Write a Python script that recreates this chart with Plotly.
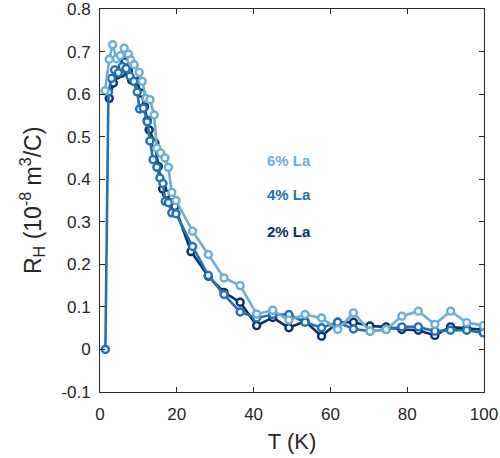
import plotly.graph_objects as go

# 6% La
T6 = [1.3, 2.4, 3.3, 4.3, 5.3, 6.3, 7.4, 8.0, 8.9, 10.2, 11.0, 12.0, 13.0, 14.1, 14.8, 15.8, 16.9, 17.8, 18.7, 19.8,
      24.1, 28.2, 32.3, 36.5, 40.8, 45.0, 49.2, 53.4, 57.7, 61.9, 66.0, 70.3, 74.5, 78.6, 82.9, 87.2, 91.3, 95.5, 99.8]
R6 = [0.608, 0.682, 0.716, 0.683, 0.690, 0.708, 0.694, 0.680, 0.669, 0.651, 0.630, 0.590, 0.587, 0.551, 0.473, 0.462, 0.450, 0.428, 0.369, 0.350,
      0.278, 0.223, 0.168, 0.150, 0.083, 0.092, 0.069, 0.082, 0.074, 0.047, 0.086, 0.043, 0.047, 0.078, 0.090, 0.059, 0.090, 0.063, 0.056]

# 4% La
T4 = [1.4, 2.2, 3.0, 3.8, 4.8, 5.8, 6.8, 7.8, 8.8, 9.7, 10.3, 11.3, 12.3, 13.0, 13.8, 14.8, 15.6, 16.4, 17.0, 17.8, 18.7, 19.8,
      24.1, 28.2, 32.3, 36.5, 40.8, 45.0, 49.2, 53.4, 57.7, 61.9, 66.0, 70.3, 74.5, 78.6, 82.9, 87.2, 91.3, 95.5, 99.8]
R4 = [0.0, 0.605, 0.637, 0.657, 0.650, 0.665, 0.660, 0.642, 0.630, 0.605, 0.565, 0.567, 0.535, 0.490, 0.446, 0.428, 0.403, 0.390, 0.348, 0.345, 0.321, 0.319,
      0.242, 0.174, 0.129, 0.088, 0.074, 0.082, 0.082, 0.064, 0.051, 0.064, 0.048, 0.043, 0.047, 0.053, 0.053, 0.043, 0.045, 0.045, 0.039]

# 2% La
T2 = [2.4, 3.5, 4.5, 5.6, 6.5, 7.4, 8.2, 9.5, 10.8, 11.6, 12.3, 12.8, 14.3, 15.2, 16.3, 17.3, 18.4, 19.5,
      23.7, 28.2, 32.3, 36.5, 40.8, 45.0, 49.2, 53.4, 57.7, 61.9, 66.0, 70.3, 74.5, 78.6, 82.9, 87.2, 91.3, 95.5, 99.8]
R2 = [0.590, 0.626, 0.645, 0.649, 0.676, 0.655, 0.633, 0.630, 0.602, 0.570, 0.538, 0.516, 0.485, 0.430, 0.377, 0.365, 0.345, 0.336,
      0.230, 0.172, 0.134, 0.111, 0.056, 0.075, 0.051, 0.066, 0.031, 0.064, 0.064, 0.055, 0.053, 0.047, 0.045, 0.033, 0.053, 0.049, 0.047]

labels = ["2% La", "4% La", "6% La"]
colors = ["#08306b", "#2171b5", "#6baed6"]
xticks = [0, 20, 40, 60, 80, 100]
yticks = [-0.1, 0, 0.1, 0.2, 0.3, 0.4, 0.5, 0.6, 0.7, 0.8]
ytick_text = ["-0.1", "0", "0.1", "0.2", "0.3", "0.4", "0.5", "0.6", "0.7", "0.8"]

FONT = "Liberation Sans, Arial, sans-serif"
W, H = 500, 458
L, Rm, Tm, B = 100, 16, 9, 66
pw, ph = W - L - Rm, H - Tm - B

fig = go.Figure()
for T, R, c, name in zip([T2, T4, T6], [R2, R4, R6], colors, labels):
    fig.add_trace(go.Scatter(
        x=T, y=R, mode="lines+markers", name=name,
        line=dict(color=c, width=2.6),
        marker=dict(symbol="circle", size=7, color="white", line=dict(color=c, width=2.4)),
        showlegend=False))

ann_y = [231, 194, 160]
for name, c, py in zip(labels, colors, ann_y):
    fig.add_annotation(text="<b>%s</b>" % name, x=(289 - L) / pw, y=(H - B - py) / ph,
                       xref="paper", yref="paper", xanchor="center", yanchor="middle",
                       showarrow=False, font=dict(family=FONT, size=15, color=c))

fig.add_annotation(text="R<sub>H</sub> (10<sup>-8</sup> m<sup>3</sup>/C)", textangle=-90,
                   x=(32 - L) / pw, y=(H - B - 201) / ph, xref="paper", yref="paper",
                   xanchor="center", yanchor="middle", showarrow=False,
                   font=dict(family=FONT, size=23, color="#262626"))

axis_common = dict(showline=True, linecolor="#262626", linewidth=1, mirror="ticks",
                   ticks="inside", ticklen=5, tickcolor="#262626", tickwidth=1,
                   showgrid=False, zeroline=False, automargin=False,
                   ticklabeloverflow="allow",
                   tickfont=dict(family=FONT, size=17, color="#262626"))

fig.update_layout(
    width=W, height=H,
    margin=dict(l=L, r=Rm, t=Tm, b=B),
    paper_bgcolor="white", plot_bgcolor="white",
    xaxis=dict(range=[0, 100], tickvals=xticks, ticklabelstandoff=7,
               title=dict(text="T (K)", font=dict(family=FONT, size=22, color="#262626"), standoff=10),
               **axis_common),
    yaxis=dict(range=[-0.1, 0.8], tickvals=yticks, ticktext=ytick_text, ticklabelstandoff=5,
               **axis_common),
)

fig.write_html("out.html", config={"displayModeBar": False},
               post_script="document.body.style.margin='0';document.body.style.overflow='hidden';")
